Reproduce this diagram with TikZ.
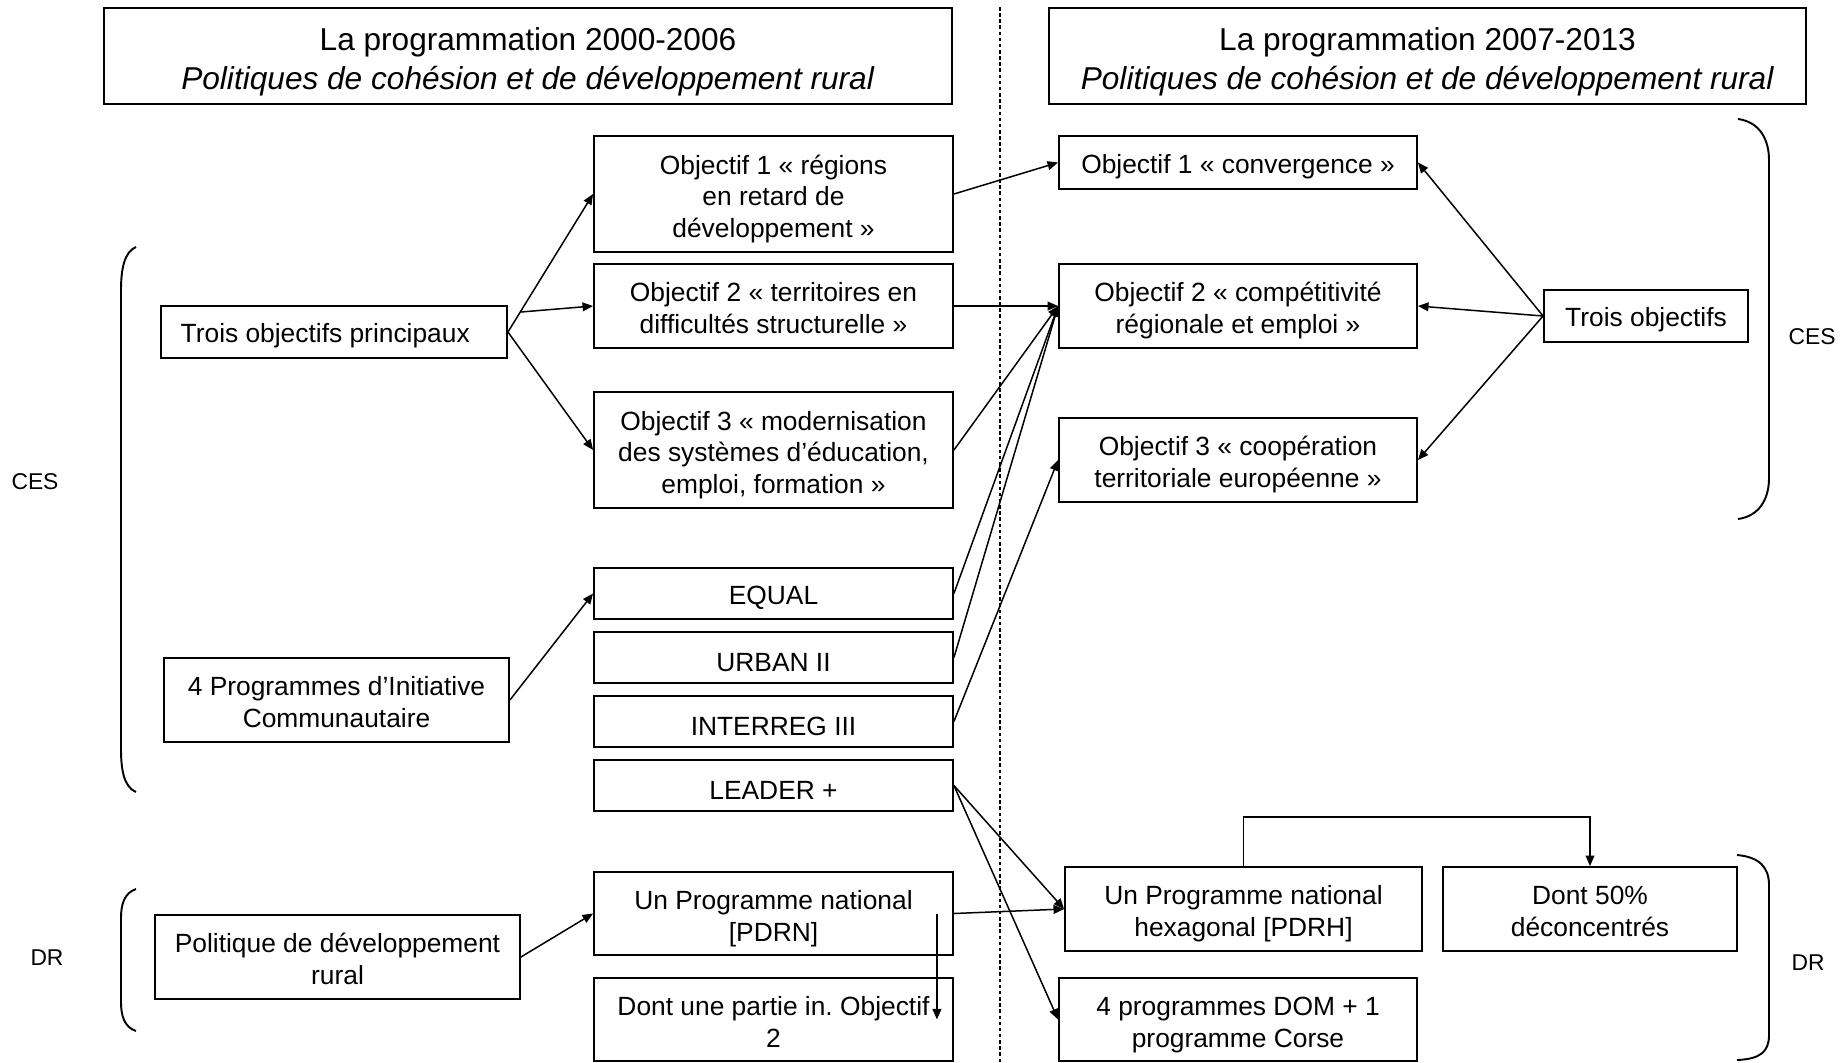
\documentclass[tikz,border=0pt]{standalone}
\usepackage{fontspec}
\setmainfont{Liberation Sans}
\usetikzlibrary{arrows.meta}

\begin{document}
\begin{tikzpicture}[x=0.02cm, y=-0.02cm]
\tikzstyle{head box} = [draw, line width=1.1pt, align=center, inner sep=0pt, font=\fontsize{18}{22}\selectfont, execute at begin node={\rule{0pt}{42pt}}]
\tikzstyle{prog box} = [draw, line width=1.1pt, align=center, inner sep=0pt, font=\fontsize{15}{18}\selectfont, execute at begin node={\rule{0pt}{15.5pt}}]
\tikzstyle{two lines} = [execute at begin node={\rule{0pt}{34.5pt}}, execute at end node={\rule[-3.2pt]{0pt}{3.2pt}}]
\tikzstyle{three lines} = [execute at begin node={\rule{0pt}{52.5pt}}, execute at end node={\rule[-3.2pt]{0pt}{3.2pt}}]
\tikzstyle{side label} = [font=\fontsize{13}{15}\selectfont]
\tikzstyle{link edge} = [draw, line width=0.85pt, -{Triangle[length=6pt, width=5pt]}]
\tikzstyle{brace edge} = [draw, line width=1.1pt]
\tikzstyle{split line} = [draw, line width=1.1pt, dash pattern=on 2pt off 1.5pt]
\useasboundingbox (0,0) rectangle (1841,1062);
\node[head box, minimum width=16.96cm, minimum height=1.92cm] (h_old) at (528,56) {La programmation 2000-2006\\ \textit{Politiques de cohésion et de développement rural}};
\node[head box, minimum width=15.14cm, minimum height=1.92cm] (h_new) at (1427.5,56) {La programmation 2007-2013\\ \textit{Politiques de cohésion et de développement rural}};
\node[prog box, three lines, minimum width=7.18cm, minimum height=2.32cm] (o1_old) at (773.5,194) {Objectif 1 « régions\\ en retard de\\ développement »};
\node[prog box, two lines, minimum width=7.18cm, minimum height=1.68cm] (o2_old) at (773.5,306) {Objectif 2 « territoires en\\ difficultés structurelle »};
\node[prog box, three lines, minimum width=7.18cm, minimum height=2.32cm] (o3_old) at (773.5,450) {Objectif 3 « modernisation\\ des systèmes d’éducation,\\ emploi, formation »};
\node[prog box, minimum width=6.92cm, minimum height=1.04cm] (tp_old) at (334,332) {Trois objectifs principaux\hspace{10pt}};
\node[prog box, minimum width=7.18cm, minimum height=1.02cm] (equal) at (773.5,593.5) {EQUAL};
\node[prog box, minimum width=7.18cm, minimum height=1.02cm] (urban) at (773.5,657.5) {URBAN II};
\node[prog box, minimum width=7.18cm, minimum height=1.02cm] (interreg) at (773.5,721.5) {INTERREG III};
\node[prog box, minimum width=7.18cm, minimum height=1.02cm] (leader) at (773.5,785.5) {LEADER +};
\node[prog box, two lines, minimum width=6.9cm, minimum height=1.68cm] (pic) at (336.5,700) {4 Programmes d’Initiative\\ Communautaire};
\node[prog box, two lines, minimum width=7.18cm, minimum height=1.66cm] (pdrn) at (773.5,913.5) {Un Programme national\\{[PDRN]}};
\node[prog box, two lines, minimum width=7.18cm, minimum height=1.66cm] (part) at (773.5,1019.5) {Dont une partie in.\ Objectif\\ 2};
\node[prog box, two lines, minimum width=7.3cm, minimum height=1.68cm] (pdr) at (337.5,957) {Politique de développement\\ rural};
\node[prog box, minimum width=7.16cm, minimum height=1.06cm] (o1_new) at (1238,162.5) {Objectif 1 « convergence »};
\node[prog box, two lines, minimum width=7.16cm, minimum height=1.68cm] (o2_new) at (1238,306) {Objectif 2 « compétitivité\\ régionale et emploi »};
\node[prog box, two lines, minimum width=7.16cm, minimum height=1.68cm] (o3_new) at (1238,460) {Objectif 3 « coopération\\ territoriale européenne »};
\node[prog box, minimum width=4.08cm, minimum height=1.04cm] (to_new) at (1646,316) {Trois objectifs};
\node[prog box, two lines, minimum width=7.14cm, minimum height=1.68cm] (pdrh) at (1243.5,909) {Un Programme national\\ hexagonal [PDRH]};
\node[prog box, two lines, minimum width=5.88cm, minimum height=1.68cm] (d50) at (1590,909) {Dont 50\%\\ déconcentrés};
\node[prog box, two lines, minimum width=7.16cm, minimum height=1.66cm] (dom) at (1238,1019.5) {4 programmes DOM + 1\\ programme Corse};
\node[side label] (ces_old) at (35,482) {CES};
\node[side label] (dr_old) at (47,958) {DR};
\node[side label] (ces_new) at (1812,337) {CES};
\node[side label] (dr_new) at (1808,963) {DR};
\path[split line] (1000,7) -- (1000,1062);
\path[brace edge] (136,247) .. controls (124,252) and (121,270) .. (121,290) -- (121,749) .. controls (121,770) and (124,787) .. (136,792);
\path[brace edge] (136,889) .. controls (124,893) and (121,905) .. (121,918) -- (121,1002) .. controls (121,1015) and (124,1027) .. (136,1031);
\path[brace edge] (1738,119) .. controls (1760,122) and (1769,140) .. (1769,160) -- (1769,478) .. controls (1769,498) and (1760,516) .. (1738,519);
\path[brace edge] (1737,855) .. controls (1760,857) and (1769,868) .. (1769,885) -- (1769,1035) .. controls (1769,1052) and (1760,1059) .. (1737,1060);
\path[link edge] (tp_old.east) -- (o1_old.west);
\path[link edge] ([shift={(13,-20)}]tp_old.east) -- (o2_old.west);
\path[link edge] (tp_old.east) -- (o3_old.west);
\path[link edge] (o1_old.east) -- (o1_new.west);
\path[link edge] (o2_old.east) -- (o2_new.west);
\path[link edge] (o3_old.east) -- (o2_new.west);
\path[link edge] (equal.east) -- (o2_new.west);
\path[link edge] (urban.east) -- (o2_new.west);
\path[link edge] (interreg.east) -- (o3_new.west);
\path[link edge] (to_new.west) -- (o1_new.east);
\path[link edge] (to_new.west) -- (o2_new.east);
\path[link edge] (to_new.west) -- (o3_new.east);
\path[link edge] (pic.east) -- (equal.west);
\path[link edge] (leader.east) -- (pdrh.west);
\path[link edge] (leader.east) -- (dom.west);
\path[link edge] (pdr.east) -- (pdrn.west);
\path[link edge] (pdrn.east) -- (pdrh.west);
\path[link edge] ([shift={(-17,0)}]pdrn.east) -- ([shift={(-17,0)}]part.east);
\path[link edge] (pdrh.north) -- ++(0,-49) -| (d50.north);
\end{tikzpicture}
\end{document}
